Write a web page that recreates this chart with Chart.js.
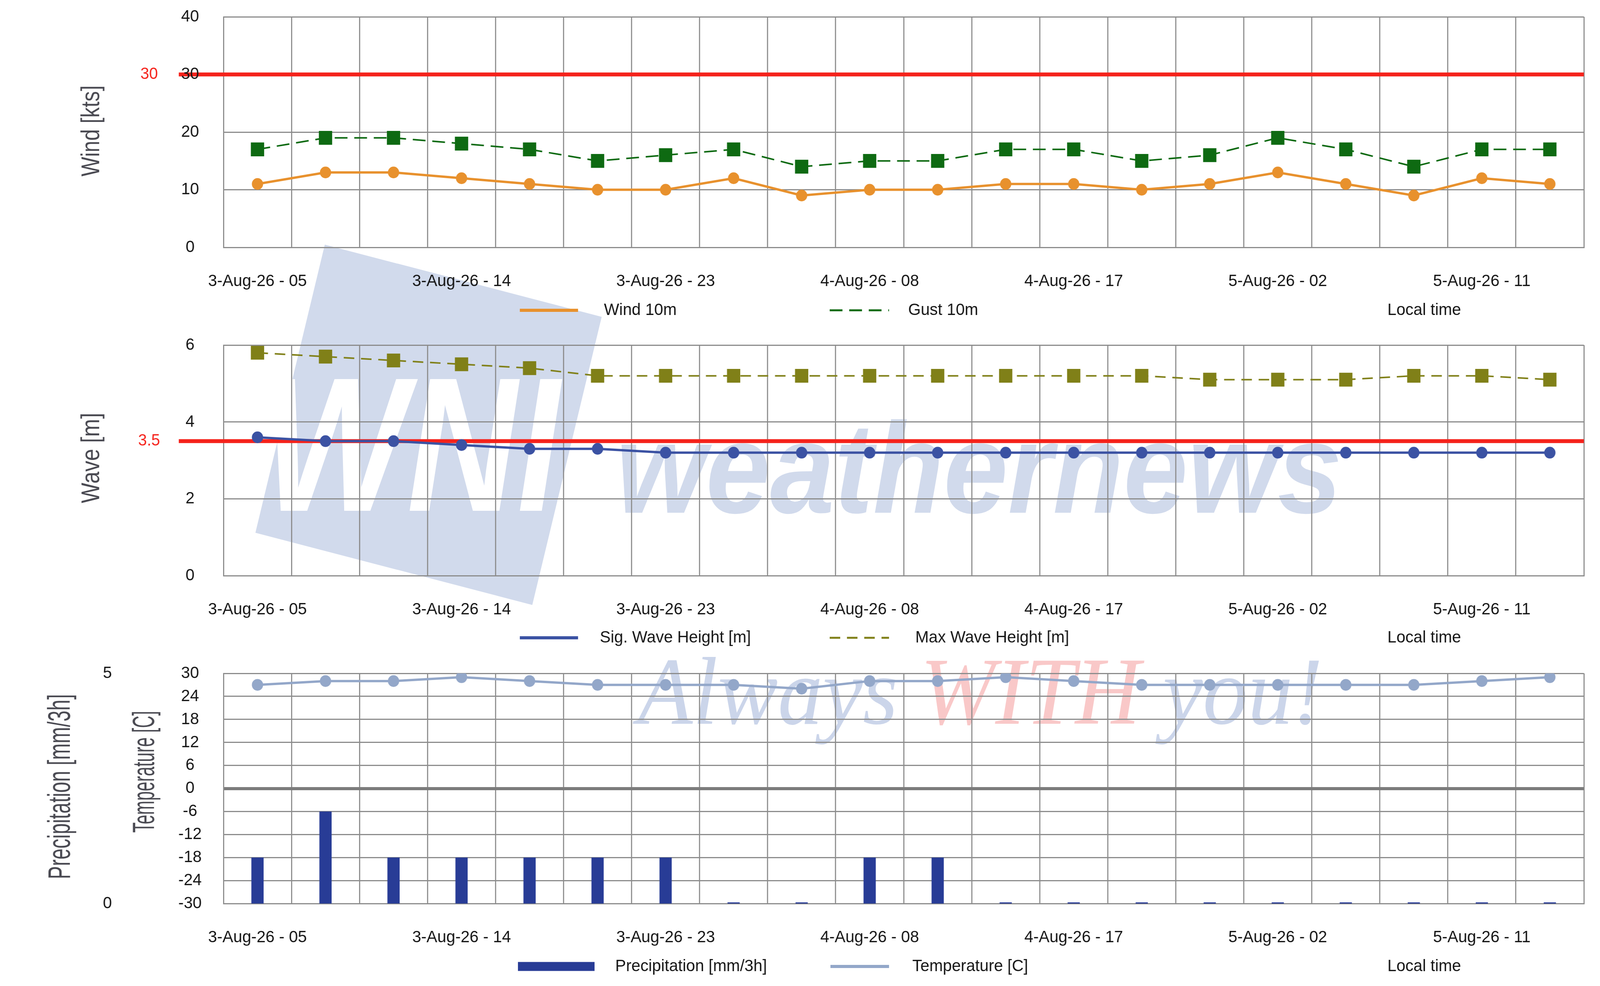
<!DOCTYPE html>
<html>
<head>
<meta charset="utf-8">
<script src="https://cdn.jsdelivr.net/npm/chart.js@4.4.1/dist/chart.umd.min.js"></script>
<style>
html,body{margin:0;padding:0;background:#fff;overflow:hidden;}
#page{position:relative;width:4260px;height:2523px;overflow:hidden;background:#fff;transform-origin:0 0;}
#wm{position:absolute;left:0;top:0;}
.panel{position:absolute;left:0;width:4260px;}
</style>
</head>
<body>
<div id="page">
<svg id="wm" width="4260" height="2523" xmlns="http://www.w3.org/2000/svg">
  <g transform="translate(1141 1087) rotate(14.07)">
    <rect x="-380" y="-380" width="760" height="760" fill="#d1daec"/>
  </g>
  <text x="700" y="1307" font-family="Liberation Sans, Arial, sans-serif" font-weight="bold" font-style="italic" font-size="490" fill="#ffffff" textLength="790" lengthAdjust="spacingAndGlyphs">WNI</text>
  <text x="1640" y="1312" font-family="Liberation Sans, Arial, sans-serif" font-weight="bold" font-style="italic" font-size="330" fill="#d1daec" textLength="1933" lengthAdjust="spacingAndGlyphs">weathernews</text>
  <text x="1698" y="1852" font-family="Liberation Serif, Times New Roman, serif" font-style="italic" font-size="245" textLength="1824" lengthAdjust="spacingAndGlyphs"><tspan fill="#cbd5ea">Always </tspan><tspan fill="#f9c8c8">WITH</tspan><tspan fill="#cbd5ea"> you!</tspan></text>
</svg>
<div class="panel" style="top:0;height:840px"><canvas id="c1"></canvas></div>
<div class="panel" style="top:840px;height:840px"><canvas id="c2"></canvas></div>
<div class="panel" style="top:1680px;height:843px"><canvas id="c3"></canvas></div>
</div>
<script>
// ---------- data ----------
const timeLabels = [
  '3-Aug-26 - 05','3-Aug-26 - 08','3-Aug-26 - 11','3-Aug-26 - 14','3-Aug-26 - 17','3-Aug-26 - 20','3-Aug-26 - 23',
  '4-Aug-26 - 02','4-Aug-26 - 05','4-Aug-26 - 08','4-Aug-26 - 11','4-Aug-26 - 14','4-Aug-26 - 17','4-Aug-26 - 20','4-Aug-26 - 23',
  '5-Aug-26 - 02','5-Aug-26 - 05','5-Aug-26 - 08','5-Aug-26 - 11','5-Aug-26 - 14'
];
const axisTickLabels = ['3-Aug-26 - 05','3-Aug-26 - 14','3-Aug-26 - 23','4-Aug-26 - 08','4-Aug-26 - 17','5-Aug-26 - 02','5-Aug-26 - 11'];
const wind10m = [11,13,13,12,11,10,10,12,9,10,10,11,11,10,11,13,11,9,12,11];
const gust10m = [17,19,19,18,17,15,16,17,14,15,15,17,17,15,16,19,17,14,17,17];
const sigWave = [3.6,3.5,3.5,3.4,3.3,3.3,3.2,3.2,3.2,3.2,3.2,3.2,3.2,3.2,3.2,3.2,3.2,3.2,3.2,3.2];
const maxWave = [5.8,5.7,5.6,5.5,5.4,5.2,5.2,5.2,5.2,5.2,5.2,5.2,5.2,5.2,5.1,5.1,5.1,5.2,5.2,5.1];
const precip = [1,2,1,1,1,1,1,0,0,1,1,0,0,0,0,0,0,0,0,0];
const temperature = [27,28,28,29,28,27,27,27,26,28,28,29,28,27,27,27,27,27,28,29];
const windRange = [0, 40, 10];
const waveRange = [0, 6, 2];
const tempRange = [-30, 30, 6];
const precipRange = [0, 5, 5];
const windLimit = 30;
const waveLimit = 3.5;
const timeNote = 'Local time';

// ---------- fit the 4260x2523 design into the actual window ----------
(function () {
  const sx = Math.min(1, window.innerWidth / 4260);
  const sy = Math.min(1, window.innerHeight / 2523);
  if (sx < 1 || sy < 1) document.getElementById('page').style.transform = 'scale(' + sx + ',' + sy + ')';
})();

// ---------- style ----------
const FONT = "'Liberation Sans', Arial, sans-serif";
const GRID = '#8c8c8c';
const TXT = '#151515';
const TITLE = '#4a4a52';
const RED = '#f5221b';
Chart.defaults.font.family = FONT;
Chart.defaults.color = TXT;

const thresholdPlugin = {
  id: 'threshold',
  beforeDatasetsDraw(chart, args, o) {
    if (o.value === undefined || o.value === null) return;
    const y = chart.scales[o.axis].getPixelForValue(o.value);
    const ctx = chart.ctx;
    ctx.save();
    ctx.strokeStyle = o.color; ctx.lineWidth = o.width;
    ctx.beginPath(); ctx.moveTo(o.startX, y); ctx.lineTo(chart.chartArea.right, y); ctx.stroke();
    ctx.fillStyle = o.color; ctx.font = o.font; ctx.textAlign = 'center'; ctx.textBaseline = 'middle';
    ctx.fillText(o.label, o.labelX, y);
    ctx.restore();
  }
};

const axisTitlePlugin = {
  id: 'axisTitles',
  afterDraw(chart, args, o) {
    const ctx = chart.ctx;
    o.items.forEach(t => {
      ctx.save();
      ctx.translate(t.x, t.y);
      ctx.rotate(-Math.PI / 2);
      ctx.scale(t.squeeze, 1);
      ctx.font = t.size + 'px ' + FONT;
      ctx.fillStyle = o.color;
      ctx.textAlign = 'center'; ctx.textBaseline = 'middle';
      ctx.fillText(t.text, 0, 0);
      ctx.restore();
    });
  }
};

const rowLegendPlugin = {
  id: 'rowLegend',
  afterDraw(chart, args, o) {
    const ctx = chart.ctx;
    const y = chart.chartArea.bottom + o.offsetY;
    ctx.save();
    ctx.textBaseline = 'middle'; ctx.textAlign = 'left';
    o.items.forEach(it => {
      const ds = chart.data.datasets[it.dataset];
      if (ds.type === 'bar') {
        ctx.fillStyle = ds.backgroundColor;
        ctx.fillRect(it.sampleX, y - o.barH / 2, it.sampleW, o.barH);
      } else {
        ctx.strokeStyle = ds.borderColor;
        ctx.lineWidth = ds.borderDash ? o.dashW : o.lineW;
        ctx.setLineDash(ds.borderDash || []);
        ctx.beginPath(); ctx.moveTo(it.sampleX, y); ctx.lineTo(it.sampleX + it.sampleW, y); ctx.stroke();
        ctx.setLineDash([]);
      }
      ctx.fillStyle = o.textColor; ctx.font = o.font;
      ctx.fillText(ds.label, it.textX, y);
    });
    ctx.fillStyle = o.textColor; ctx.font = o.font;
    ctx.fillText(o.note, o.noteX, y);
    ctx.restore();
  }
};

function xScale() {
  return {
    type: 'category',
    offset: true,
    grid: { offset: true, color: GRID, lineWidth: 3, drawTicks: false, z: 0 },
    border: { color: GRID, width: 3 },
    ticks: {
      autoSkip: false, maxRotation: 0, minRotation: 0, padding: 61, z: 1,
      font: { family: FONT, size: 43 }, color: TXT,
      callback: function (v) { const l = this.getLabelForValue(v); return axisTickLabels.includes(l) ? l : ''; }
    },
    afterFit: s => { s.height = 125; s.paddingLeft = 0; s.paddingRight = 0; }
  };
}

function yScale(range, pad, width) {
  return {
    position: 'left',
    min: range[0], max: range[1],
    grid: { color: GRID, lineWidth: 3, drawTicks: false, z: 0 },
    border: { color: GRID, width: 3 },
    ticks: { stepSize: range[2], padding: pad, crossAlign: 'center', font: { family: FONT, size: 43 }, color: TXT, z: 1 },
    title: { display: false },
    afterFit: s => { s.width = width; s.paddingTop = 0; s.paddingBottom = 0; }
  };
}

function baseOptions(padBottom) {
  return {
    responsive: true, maintainAspectRatio: false, animation: false, devicePixelRatio: 1,
    layout: { padding: { left: 0, right: 43, top: 43, bottom: padBottom } },
    plugins: { legend: { display: false }, tooltip: { enabled: false } },
    elements: { line: { tension: 0 } }
  };
}

function lineDs(label, data, color, width, dash, style, radius, axis) {
  return {
    type: 'line', label, data, yAxisID: axis,
    borderColor: color, backgroundColor: color, borderWidth: width,
    borderDash: dash || undefined,
    pointStyle: style, pointRadius: radius, pointHoverRadius: radius,
    pointBackgroundColor: color, pointBorderColor: color, pointBorderWidth: 0,
    fill: false, order: 0
  };
}

// ---------- chart 1: wind ----------
{
  const opt = baseOptions(82);
  opt.scales = { x: xScale(), y: yScale(windRange, 65, 595) };
  opt.plugins.threshold = { value: windLimit, axis: 'y', color: RED, width: 10, startX: 476, label: String(windLimit), labelX: 397, font: '42px ' + FONT };
  opt.plugins.axisTitles = { color: TITLE, items: [ { text: 'Wind [kts]', x: 245, y: 335, size: 69, squeeze: 0.77 } ] };
  opt.plugins.rowLegend = {
    offsetY: 161, font: '43px ' + FONT, textColor: TXT, lineW: 8, dashW: 5, barH: 23,
    items: [ { dataset: 0, sampleX: 1384, sampleW: 155, textX: 1608 }, { dataset: 1, sampleX: 2209, sampleW: 158, textX: 2418 } ],
    note: timeNote, noteX: 3694
  };
  new Chart(document.getElementById('c1'), {
    type: 'line',
    data: { labels: timeLabels, datasets: [
      lineDs('Wind 10m', wind10m, '#e8912d', 6, null, 'circle', 15, 'y'),
      lineDs('Gust 10m', gust10m, '#0e6a12', 4, [34, 18], 'rect', 25, 'y')
    ] },
    options: opt,
    plugins: [thresholdPlugin, axisTitlePlugin, rowLegendPlugin]
  });
}

// ---------- chart 2: wave ----------
{
  const opt = baseOptions(82);
  opt.scales = { x: xScale(), y: yScale(waveRange, 77, 595) };
  opt.plugins.threshold = { value: waveLimit, axis: 'y', color: RED, width: 10, startX: 476, label: String(waveLimit), labelX: 397, font: '42px ' + FONT };
  opt.plugins.axisTitles = { color: TITLE, items: [ { text: 'Wave [m]', x: 245, y: 332, size: 69, squeeze: 0.8 } ] };
  opt.plugins.rowLegend = {
    offsetY: 159, font: '43px ' + FONT, textColor: TXT, lineW: 8, dashW: 5, barH: 23,
    items: [ { dataset: 0, sampleX: 1384, sampleW: 155, textX: 1597 }, { dataset: 1, sampleX: 2209, sampleW: 158, textX: 2437 } ],
    note: timeNote, noteX: 3694
  };
  new Chart(document.getElementById('c2'), {
    type: 'line',
    data: { labels: timeLabels, datasets: [
      lineDs('Sig. Wave Height [m]', sigWave, '#3b52a3', 6, null, 'circle', 15, 'y'),
      lineDs('Max Wave Height [m]', maxWave, '#808018', 4, [28, 18], 'rect', 25, 'y')
    ] },
    options: opt,
    plugins: [thresholdPlugin, axisTitlePlugin, rowLegendPlugin]
  });
}

// ---------- chart 3: precipitation + temperature ----------
{
  const opt = baseOptions(86);
  const yT = yScale(tempRange, 58, 275);
  yT.weight = 0;
  yT.grid.lineWidth = c => (c.tick && c.tick.value === 0 ? 8 : 3);
  yT.grid.color = c => (c.tick && c.tick.value === 0 ? '#7c7c7c' : GRID);
  const yP = {
    position: 'left', weight: 1, min: precipRange[0], max: precipRange[1],
    grid: { display: false, drawTicks: false }, border: { display: false },
    ticks: { stepSize: precipRange[2], padding: 22, crossAlign: 'center', font: { family: FONT, size: 43 }, color: TXT, z: 1 },
    title: { display: false },
    afterFit: s => { s.width = 320; s.paddingTop = 0; s.paddingBottom = 0; }
  };
  opt.scales = { x: xScale(), yP: yP, yT: yT };
  opt.plugins.axisTitles = { color: TITLE, items: [
    { text: 'Precipitation [mm/3h]', x: 163, y: 333, size: 84, squeeze: 0.6 },
    { text: 'Temperature [C]', x: 387, y: 295, size: 82, squeeze: 0.53 }
  ] };
  opt.plugins.rowLegend = {
    offsetY: 161, font: '43px ' + FONT, textColor: TXT, lineW: 8, dashW: 5, barH: 23,
    items: [ { dataset: 0, sampleX: 1379, sampleW: 204, textX: 1638 }, { dataset: 1, sampleX: 2211, sampleW: 156, textX: 2429 } ],
    note: timeNote, noteX: 3694
  };
  new Chart(document.getElementById('c3'), {
    data: { labels: timeLabels, datasets: [
      { type: 'bar', label: 'Precipitation [mm/3h]', data: precip, yAxisID: 'yP', backgroundColor: '#283c96',
        barPercentage: 0.18, categoryPercentage: 1, minBarLength: 3, order: 1 },
      lineDs('Temperature [C]', temperature, '#93a7c9', 6, null, 'circle', 15, 'yT')
    ] },
    options: opt,
    plugins: [axisTitlePlugin, rowLegendPlugin]
  });
}
</script>
</body>
</html>
